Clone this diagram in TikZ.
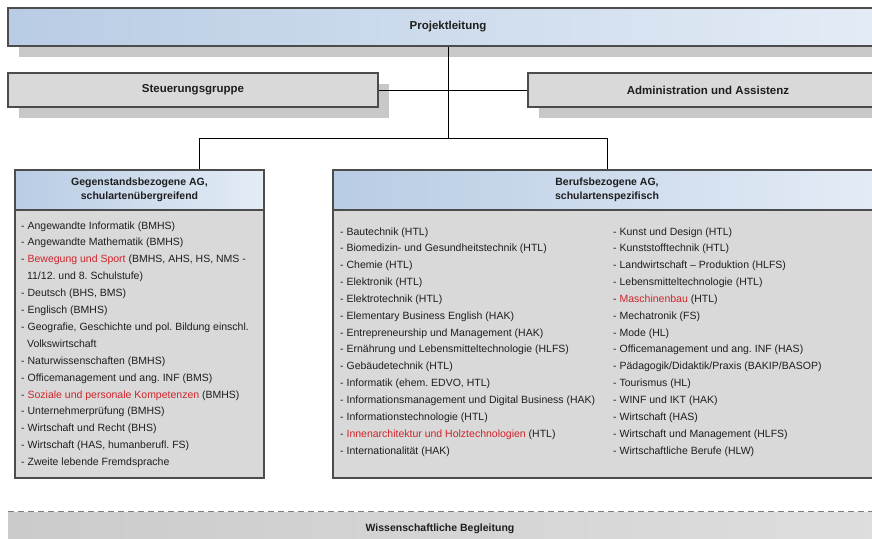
\documentclass[tikz,border=0pt]{standalone}
\usepackage{fontspec}
\setmainfont{Liberation Sans}
\usetikzlibrary{shadows}
\frenchspacing
\definecolor{bord}{HTML}{4C4C4C}
\definecolor{hdrL}{HTML}{B8CCE4}
\definecolor{hdrR}{HTML}{E4ECF6}
\definecolor{boxgray}{HTML}{D9D9D9}
\definecolor{shadowc}{HTML}{C8C8C8}
\definecolor{txt}{HTML}{1E1E1E}
\definecolor{redtxt}{HTML}{D0242B}
\definecolor{stripL}{HTML}{CBCBCB}
\definecolor{stripR}{HTML}{DEDEDE}
\definecolor{dashc}{HTML}{7C7C7C}
\newcommand{\rd}[1]{\textcolor{redtxt}{#1}}
\tikzset{
  topbase/.style={draw=bord, line width=2.5pt, inner sep=0pt, text=txt,
    font=\fontsize{11.5}{13}\selectfont\bfseries,
    drop shadow={shadow xshift=11pt, shadow yshift=-11pt, fill=shadowc, opacity=1}},
  topblue/.style={topbase, left color=hdrL, right color=hdrR},
  topgray/.style={topbase, fill=boxgray},
  listhead/.style={draw=bord, line width=1.4pt, inner sep=0pt, text=txt,
    left color=hdrL, right color=hdrR, align=center,
    font=\fontsize{10.5}{14}\selectfont\bfseries},
  listbody/.style={draw=bord, line width=1.4pt, fill=boxgray, inner sep=0pt},
  item/.style={anchor=base west, inner sep=0pt, text=txt,
    font=\fontsize{10.5}{12}\selectfont},
  conn/.style={draw=black, line width=0.9pt}
}
\begin{document}
\begin{tikzpicture}[x=1pt,y=-1pt]
\useasboundingbox (0,0) rectangle (872,538);
\clip (0,0) rectangle (872,538);

% top level boxes
\node[topblue, minimum width=880pt, minimum height=38pt] (pl) at (448,27) {Projektleitung};
\node[topgray, minimum width=370pt, minimum height=34pt] (sg) at (193,90) {Steuerungsgruppe};
\node[topgray, minimum width=360pt, minimum height=34pt] (aa) at (708,90) {Administration und Assistenz};

% list boxes
\node[listbody, minimum width=249pt, minimum height=268pt] (lb) at (139.5,344) {};
\node[listhead, minimum width=249pt, minimum height=40pt] (lh) at (139.5,190) {Gegenstandsbezogene AG,\\schulartenübergreifend};
\node[listbody, minimum width=548pt, minimum height=268pt] (rb) at (607,344) {};
\node[listhead, minimum width=548pt, minimum height=40pt] (rh) at (607,190) {Berufsbezogene AG,\\schulartenspezifisch};

% connectors
\coordinate (jm) at (448,138);
\coordinate (jl) at (199,138);
\coordinate (jr) at (607,138);
\draw[conn] (pl.south) -- (jm);
\draw[conn] (sg.east) -- (aa.west);
\draw[conn] (jl) -- (jr);
\draw[conn] (jl) -- (jl |- lh.north);
\draw[conn] (jr) -- (rh.north);

% left list
\foreach \t [count=\i] in {
  {- Angewandte Informatik (BMHS)},
  {- Angewandte Mathematik (BMHS)},
  {- \rd{Bewegung und Sport} (BMHS, AHS, HS, NMS -},
  {\hspace*{5.9pt}11/12. und 8. Schulstufe)},
  {- Deutsch (BHS, BMS)},
  {- Englisch (BMHS)},
  {- Geografie, Geschichte und pol. Bildung einschl.},
  {\hspace*{5.9pt}Volkswirtschaft},
  {- Naturwissenschaften (BMHS)},
  {- Officemanagement und ang. INF (BMS)},
  {- \rd{Soziale und personale Kompetenzen} (BMHS)},
  {- Unternehmerprüfung (BMHS)},
  {- Wirtschaft und Recht (BHS)},
  {- Wirtschaft (HAS, humanberufl. FS)},
  {- Zweite lebende Fremdsprache}}
  \node[item] (L\i) at (21,{229+(\i-1)*16.9}) {\t};

% right list, column 1
\foreach \t [count=\i] in {
  {- Bautechnik (HTL)},
  {- Biomedizin- und Gesundheitstechnik (HTL)},
  {- Chemie (HTL)},
  {- Elektronik (HTL)},
  {- Elektrotechnik (HTL)},
  {- Elementary Business English (HAK)},
  {- Entrepreneurship und Management (HAK)},
  {- Ernährung und Lebensmitteltechnologie (HLFS)},
  {- Gebäudetechnik (HTL)},
  {- Informatik (ehem. EDVO, HTL)},
  {- Informationsmanagement und Digital Business (HAK)},
  {- Informationstechnologie (HTL)},
  {- \rd{Innenarchitektur und Holztechnologien} (HTL)},
  {- Internationalität (HAK)}}
  \node[item] (R\i) at (340,{235+(\i-1)*16.85}) {\t};

% right list, column 2
\foreach \t [count=\i] in {
  {- Kunst und Design (HTL)},
  {- Kunststofftechnik (HTL)},
  {- Landwirtschaft – Produktion (HLFS)},
  {- Lebensmitteltechnologie (HTL)},
  {- \rd{Maschinenbau} (HTL)},
  {- Mechatronik (FS)},
  {- Mode (HL)},
  {- Officemanagement und ang. INF (HAS)},
  {- Pädagogik/Didaktik/Praxis (BAKIP/BASOP)},
  {- Tourismus (HL)},
  {- WINF und IKT (HAK)},
  {- Wirtschaft (HAS)},
  {- Wirtschaft und Management (HLFS)},
  {- Wirtschaftliche Berufe (HLW)}}
  \node[item] (S\i) at (613,{235+(\i-1)*16.85}) {\t};

% bottom strip
\node[inner sep=0pt, minimum width=880pt, minimum height=40pt, left color=stripL, right color=stripR] (wb) at (448,532) {};
\draw[dashc, line width=1pt, dash pattern=on 6pt off 4pt] (wb.north west) -- (wb.north east);
\node[inner sep=0pt, text=txt, font=\fontsize{10.5}{12}\selectfont\bfseries] (wbt) at (440,529) {Wissenschaftliche Begleitung};
\end{tikzpicture}
\end{document}
